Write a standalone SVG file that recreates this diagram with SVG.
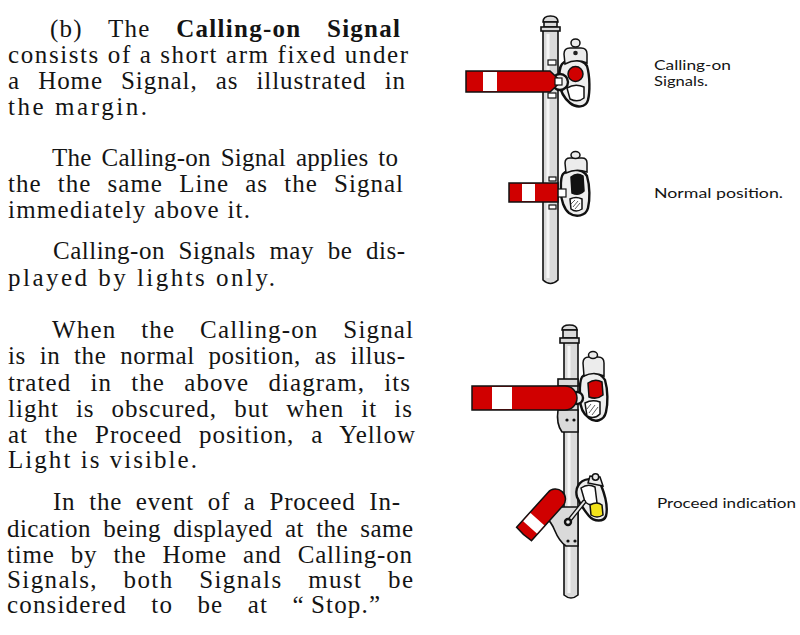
<svg xmlns="http://www.w3.org/2000/svg" width="800" height="635" viewBox="0 0 800 635">
<style>
.t{font-family:"Liberation Serif","Times New Roman",serif;font-size:25px;fill:#141414}
.b{font-weight:bold}
.l{font-family:Lato,"Open Sans","DejaVu Sans",sans-serif;font-size:14px;fill:#141414}
.post{fill:#dadada;stroke:#111;stroke-width:1.6}
.hl{stroke:#f6f6f6;stroke-width:3;fill:none}
.red{fill:#d00000;stroke:#111;stroke-width:1.5}
.wht{fill:#fff;stroke:none}
.cast{fill:#eeeeee;stroke:#111;stroke-width:2.4}
.lamp{fill:#ececec;stroke:#111;stroke-width:1.5}
.ap{fill:#fff;stroke:#111;stroke-width:1.5}
.sq{fill:#fff;stroke:#111;stroke-width:1.2}
.hat{stroke:#333;stroke-width:0.8;fill:none}
.riv{fill:#111}
</style>
<rect width="800" height="635" fill="#fff"/>

<g id="text">
<text class="t" x="50" y="37" word-spacing="18" textLength="350" lengthAdjust="spacing">(b) The <tspan class="b">Calling-on Signal</tspan></text>
<text class="t" x="8" y="63" textLength="400" lengthAdjust="spacing">consists of a short arm fixed under</text>
<text class="t" x="8" y="89" word-spacing="11" textLength="397" lengthAdjust="spacing">a Home Signal, as illustrated in</text>
<text class="t" x="8" y="115" textLength="139" lengthAdjust="spacing">the margin.</text>

<text class="t" x="52" y="166" word-spacing="3.4" textLength="346" lengthAdjust="spacing">The Calling-on Signal applies to</text>
<text class="t" x="8" y="192" word-spacing="9" textLength="395" lengthAdjust="spacing">the the same Line as the Signal</text>
<text class="t" x="8" y="218" textLength="242" lengthAdjust="spacing">immediately above it.</text>

<text class="t" x="53" y="259" word-spacing="7" textLength="352" lengthAdjust="spacing">Calling-on Signals may be dis-</text>
<text class="t" x="8" y="286" textLength="267" lengthAdjust="spacing">played by lights only.</text>

<text class="t" x="52" y="338" word-spacing="17.5" textLength="361" lengthAdjust="spacing">When the Calling-on Signal</text>
<text class="t" x="8" y="364" word-spacing="6.8" textLength="397" lengthAdjust="spacing">is in the normal position, as illus-</text>
<text class="t" x="8" y="391" word-spacing="12" textLength="402" lengthAdjust="spacing">trated in the above diagram, its</text>
<text class="t" x="8" y="417" word-spacing="9.8" textLength="404" lengthAdjust="spacing">light is obscured, but when it is</text>
<text class="t" x="8" y="443" word-spacing="9.7" textLength="407" lengthAdjust="spacing">at the Proceed position, a Yellow</text>
<text class="t" x="8" y="468" textLength="189" lengthAdjust="spacing">Light is visible.</text>

<text class="t" x="53" y="510" word-spacing="6.7" textLength="347" lengthAdjust="spacing">In the event of a Proceed In-</text>
<text class="t" x="7" y="537" word-spacing="5.6" textLength="406" lengthAdjust="spacing">dication being displayed at the same</text>
<text class="t" x="7" y="563" word-spacing="9" textLength="405" lengthAdjust="spacing">time by the Home and Calling-on</text>
<text class="t" x="7" y="588" word-spacing="18" textLength="406" lengthAdjust="spacing">Signals, both Signals must be</text>
<text class="t" x="7" y="613" word-spacing="17" textLength="373" lengthAdjust="spacing">considered to be at “&#8201;Stop.”</text>
</g>

<g id="labels">
<text class="l" x="654" y="70" textLength="77" lengthAdjust="spacingAndGlyphs">Calling-on</text>
<text class="l" x="654" y="86" textLength="54" lengthAdjust="spacingAndGlyphs">Signals.</text>
<text class="l" x="654" y="198" textLength="129" lengthAdjust="spacingAndGlyphs">Normal position.</text>
<text class="l" x="657" y="508" textLength="139" lengthAdjust="spacingAndGlyphs">Proceed indication</text>
</g>

<g id="signal-normal">
  <path class="post" d="M543 30 L543 280 Q550.5 287 558 280 L558 30 Z"/>
  <line class="hl" x1="548" y1="34" x2="548" y2="278"/>
  <path class="post" d="M543 22 Q543 16 550.5 16 Q558 16 558 22 Z"/>
  <rect class="post" x="544" y="22" width="13" height="5"/>
  <rect class="post" x="541" y="27" width="19" height="4"/>
  <rect class="sq" x="548" y="60" width="8" height="5"/>
  <rect class="sq" x="548" y="93" width="8" height="5"/>
  <path class="cast" d="M562 64 C568 58 582 58 587 66 C590 76 590 92 588 100 C586 108 576 108 570 103 C564 98 560 90 559 82 C559 74 559 68 562 64 Z"/>
  <path class="lamp" d="M565 64 L564 54 Q564 48 570 48 L581 48 Q587 48 587 54 L587 63 Q576 58 565 64 Z"/>
  <ellipse class="lamp" cx="575.5" cy="43" rx="4.5" ry="4"/>
  <circle cx="575.5" cy="53" r="2.3" fill="#222"/>
  <circle class="red" cx="575.5" cy="74" r="7.5"/>
  <path class="ap" d="M567 88 Q575 83 584 87 L584 98 Q578 103 570 99 Z"/>
  <circle class="cast" cx="560" cy="82" r="8"/>
  <path class="red" d="M466 71 L550 71 L561 81.5 L550 92 L466 92 Z"/>
  <rect class="wht" x="483" y="72" width="14" height="19"/>
  <rect class="sq" x="555" y="78" width="7" height="7"/>
  <rect class="sq" x="549" y="177" width="7" height="4"/>
  <rect class="sq" x="549" y="205" width="7" height="4"/>
  <path class="cast" d="M563 174 C569 168 582 168 587 176 C590 186 590 200 588 208 C586 216 576 218 569 213 C564 209 561 200 561 192 C561 184 560 178 563 174 Z"/>
  <path class="lamp" d="M566 173 L565 163 Q565 158 570 158 L582 158 Q587 158 587 163 L587 172 Q576 168 566 173 Z"/>
  <ellipse class="lamp" cx="575.5" cy="155" rx="4.5" ry="3.5"/>
  <path d="M571 177 Q577 172 583 176 L584 191 Q579 196 572 193 Z" fill="#111" stroke="#111" stroke-width="1.5"/>
  <path class="ap" d="M570 199 Q576 196 582 199 L582 209 Q576 213 571 209 Z"/>
  <path class="hat" d="M573 207 L578 201 M575 209 L580 203 M571 204 L575 200"/>
  <rect class="sq" x="557" y="189" width="9" height="8"/>
  <rect class="red" x="509" y="183" width="49" height="19"/>
  <rect class="wht" x="522" y="184" width="13" height="17"/>
</g>

<g id="signal-proceed">
  <path class="post" d="M564 342 L564 595 Q571 601 578 595 L578 342 Z"/>
  <line class="hl" x1="569" y1="346" x2="569" y2="593"/>
  <path class="post" d="M562 330 Q562 325 569.5 325 Q577 325 577 330 Z"/>
  <rect class="post" x="563" y="330" width="14" height="8"/>
  <rect class="post" x="560" y="338" width="19" height="5"/>
  <rect class="post" x="558" y="379" width="20" height="7"/>
  <path class="post" d="M558 410 Q556 424 562 432 L578 432 L578 410 Z"/>
  <circle class="riv" cx="567" cy="420" r="1.6"/>
  <circle class="riv" cx="574" cy="420" r="1.6"/>
  <path class="cast" d="M582 377 C588 371 600 371 605 380 C608 390 608 404 606 412 C604 421 595 423 589 418 C583 414 580 406 580 398 C580 390 579 382 582 377 Z"/>
  <path class="lamp" d="M584 376 L583 363 Q583 357 589 357 L598 357 Q604 357 604 363 L604 376 Q594 371 584 376 Z"/>
  <ellipse class="lamp" cx="593" cy="355" rx="4.5" ry="3.5"/>
  <path class="red" d="M588 383 Q595 378 602 382 L603 395 Q597 400 589 397 Z"/>
  <path class="ap" d="M585 403 Q592 399 600 402 L600 414 Q594 420 587 416 Z"/>
  <path class="hat" d="M589 413 L595 405 M592 415 L598 407 M587 409 L591 404"/>
  <circle class="cast" cx="577" cy="398" r="6"/>
  <path class="red" d="M472 386 L565 386 A12 12 0 0 1 565 410 L472 410 Z"/>
  <rect class="wht" x="492" y="387" width="20" height="22"/>
  <path class="post" d="M548 507 L578 507 L578 546 L566 546 Q559 541 555 531 Q551 521 545 517 Z"/>
  <circle class="riv" cx="568" cy="541" r="1.6"/>
  <circle class="riv" cx="575" cy="541" r="1.6"/>
  <path class="cast" d="M578 486 C582 478 596 476 601 485 C605 495 608 508 606 516 C604 522 594 522 589 516 C584 510 580 504 577 497 C576 493 576 489 578 486 Z"/>
  <path class="lamp" d="M588 483 L590 476 L600 477 L603 486 Z"/>
  <circle class="lamp" cx="595.5" cy="477" r="3.2"/>
  <path class="ap" d="M581 488 Q588 483 595 487 L597 503 Q591 507 585 502 Z"/>
  <path d="M590 505 Q597 501 602 505 L603 515 Q597 519 591 515 Z" fill="#f2e21a" stroke="#111" stroke-width="1.5"/>
  <line x1="584" y1="502" x2="568" y2="522" stroke="#111" stroke-width="4.5" stroke-linecap="round"/>
  <line x1="584" y1="502" x2="568" y2="522" stroke="#e8e8e8" stroke-width="2" stroke-linecap="round"/>
  <circle class="cast" cx="568" cy="522" r="3" stroke-width="1.3"/>
  <g transform="translate(524 534) rotate(-48)">
    <path class="red" d="M0 -10 L47 -10 A10 10 0 0 1 47 10 L0 10 Q-1.5 0 0 -10 Z"/>
    <rect class="wht" x="9" y="-9.2" width="11" height="18.4"/>
  </g>
</g>
</svg>
